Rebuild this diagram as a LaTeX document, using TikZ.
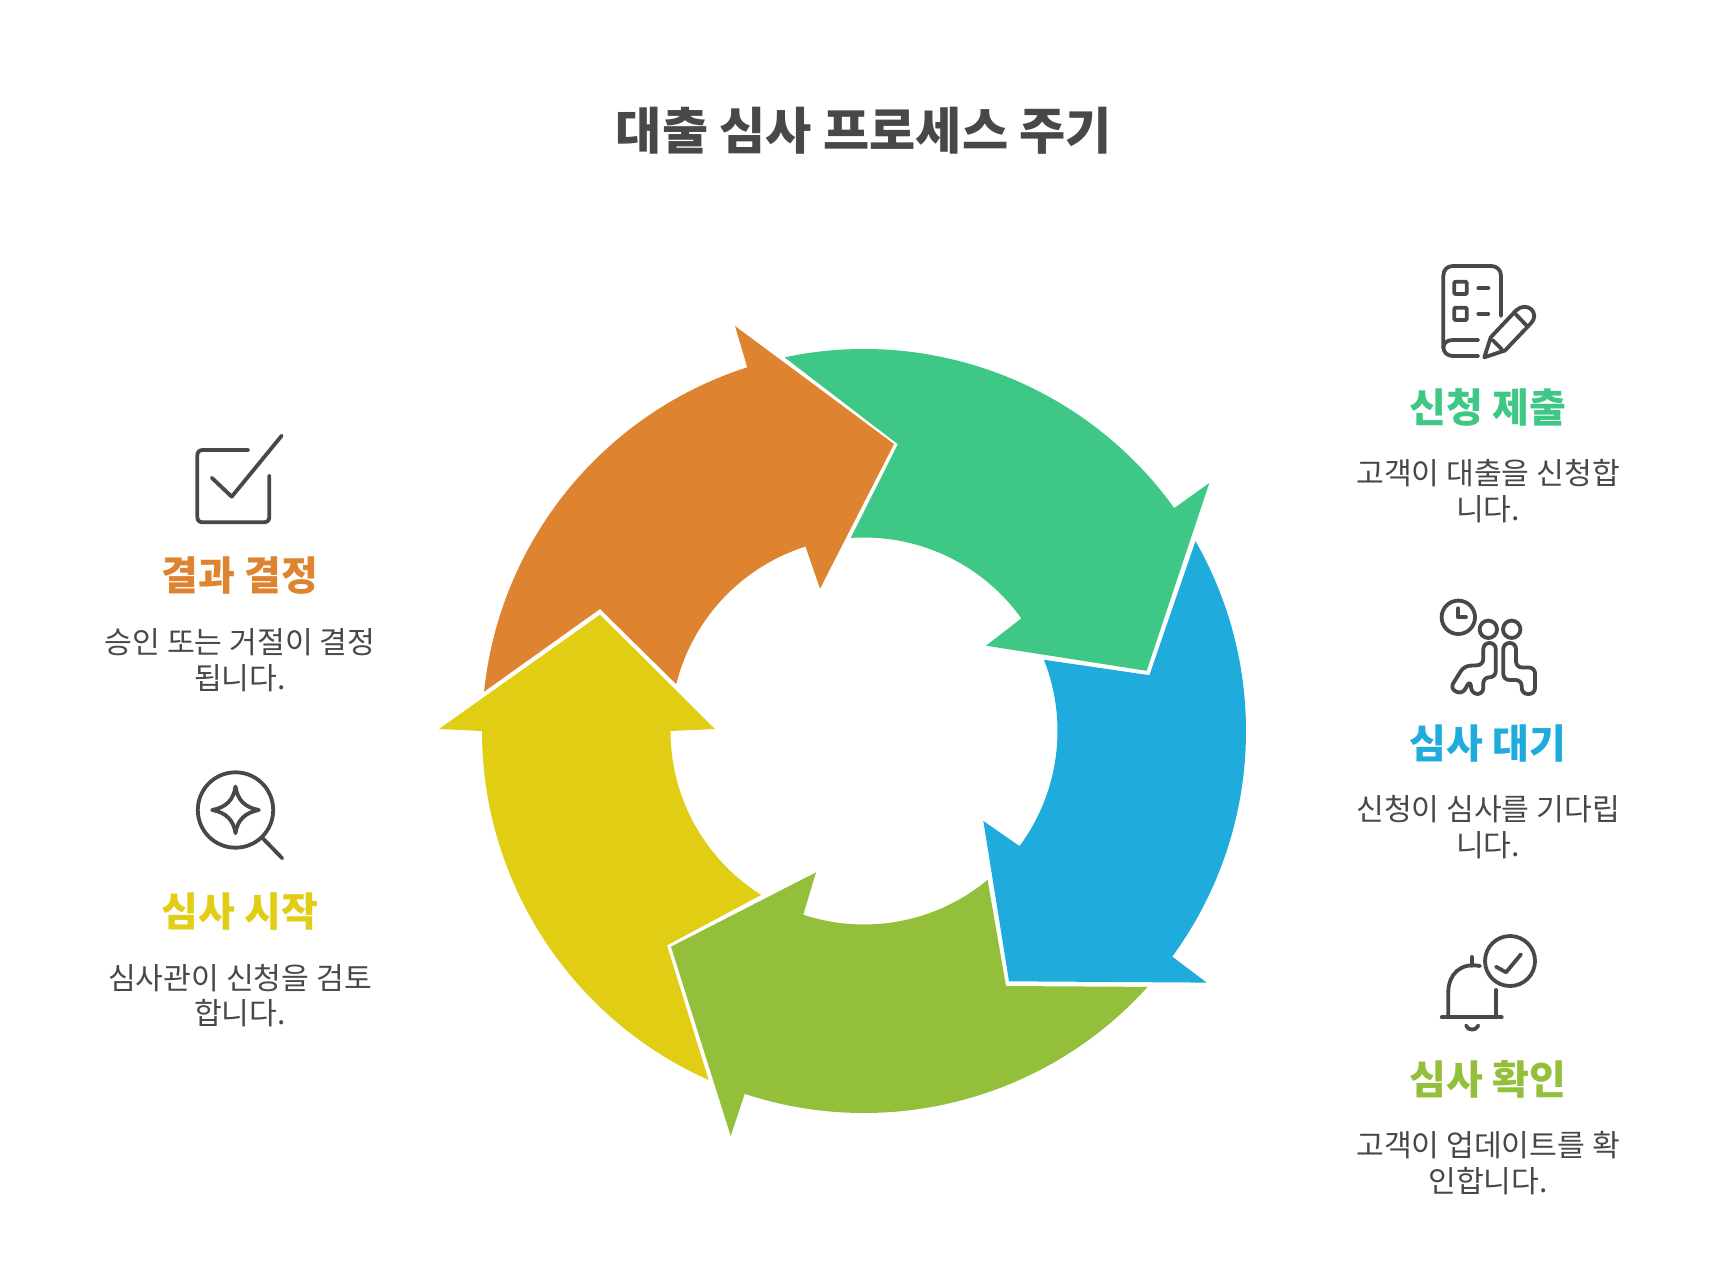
\documentclass[tikz,border=0pt]{standalone}
\usepackage{fontspec}
\setmainfont{Noto Sans CJK KR}
\definecolor{cgreen}{HTML}{3EC785}
\definecolor{cblue}{HTML}{1FABDB}
\definecolor{clime}{HTML}{94BF3A}
\definecolor{cyellow}{HTML}{E0CD14}
\definecolor{corange}{HTML}{DE8431}
\definecolor{ink}{HTML}{484848}
\tikzset{
  titletext/.style={text=ink,inner sep=0pt,font=\bfseries\fontsize{50.2}{58}\selectfont},
  headtext/.style={inner sep=0pt,font=\bfseries\fontsize{40}{46}\selectfont},
  bodytext/.style={text=ink,inner sep=0pt,align=center,font=\fontsize{30.2}{35.5}\selectfont},
  icon/.style={draw=ink,line width=3.8pt,line cap=round,line join=round,fill=none},
  ring/.style={shift={(864,731)}}
}
\begin{document}
\begin{tikzpicture}[x=1pt,y=1pt,yscale=-1]
\useasboundingbox (0,0) rectangle (1728,1273);
% ring arrows
\fill[cgreen] ([ring]258:382) arc[start angle=258,end angle=324.3,radius=382pt]
  -- (1209.3,483) -- (1146.7,670.8) -- (986,645.7) -- ([ring]324.4:193.5)
  arc[start angle=324.4,end angle=266.1,radius=193.5pt] -- (897.8,444.2) -- cycle;
\fill[cblue] ([ring]330.2:382) arc[start angle=330.2,end angle=396.2,radius=382pt]
  -- (1206.7,982.6) -- (1009,981.3) -- (983.3,820.9) -- ([ring]36.5:193.5)
  arc[start angle=36.5,end angle=-21.6,radius=193.5pt] -- (1149.4,675.2) -- cycle;
\fill[clime] ([ring]42.06:382) arc[start angle=42.06,end angle=108.2,radius=382pt]
  -- (730.7,1136) -- (671,946.7) -- (816,872.3) -- ([ring]108.3:193.5)
  arc[start angle=108.3,end angle=50.3,radius=193.5pt] -- (1006,986) -- cycle;
\fill[cyellow] ([ring]114:382) arc[start angle=114,end angle=180,radius=382pt]
  -- (439,729) -- (600,614.7) -- (715,729) -- ([ring]180:193.5)
  arc[start angle=180,end angle=122.1,radius=193.5pt] -- (667,945.3) -- cycle;
\fill[corange] ([ring]185.9:382) arc[start angle=185.9,end angle=252.2,radius=382pt]
  -- (735,326) -- (894,444) -- (820,588.7) -- ([ring]252.4:193.5)
  arc[start angle=252.4,end angle=194,radius=193.5pt] -- (600,609) -- cycle;
% title
\node[titletext] (title) at (864,131) {대출 심사 프로세스 주기};
% labels, right column
\node[headtext,text=cgreen] (h1) at (1488,407.2) {신청 제출};
\node[bodytext] (b1) at (1488,491.2) {고객이 대출을 신청합\\니다.};
\node[headtext,text=cblue] (h2) at (1488,743.2) {심사 대기};
\node[bodytext] (b2) at (1488,827.2) {신청이 심사를 기다립\\니다.};
\node[headtext,text=clime] (h3) at (1488,1079.2) {심사 확인};
\node[bodytext] (b3) at (1488,1163.2) {고객이 업데이트를 확\\인합니다.};
% labels, left column
\node[headtext,text=corange] (h4) at (240,575.2) {결과 결정};
\node[bodytext] (b4) at (240,660) {승인 또는 거절이 결정\\됩니다.};
\node[headtext,text=cyellow] (h5) at (240,911.2) {심사 시작};
\node[bodytext] (b5) at (240,995.6) {심사관이 신청을 검토\\합니다.};
% icon: form and pencil
\draw[icon] (1478.3,356) -- (1453,356) .. controls (1447,356) and (1443.3,352) .. (1443.3,347)
  -- (1443.3,276) .. controls (1443.3,270) and (1447,266) .. (1453,266)
  -- (1491,266) .. controls (1497,266) and (1501,270) .. (1501,276) -- (1501,316);
\draw[icon] (1478.3,340) -- (1453,340) .. controls (1447,340) and (1443.3,343) .. (1443.3,348);
\draw[icon,rounded corners=1pt] (1454.3,281.7) rectangle (1466.7,294);
\draw[icon,rounded corners=1pt] (1454.3,307.7) rectangle (1466.7,320);
\draw[icon] (1478.3,288.3) -- (1488.3,288.3);
\draw[icon] (1478.3,314) -- (1488.3,314);
\draw[icon] (1484.3,357.3) -- (1490.7,337.3) -- (1516,310.5)
  .. controls (1521,305.5) and (1528,306) .. (1531.5,309.5)
  .. controls (1535,313) and (1535.5,319) .. (1530.7,323.5)
  -- (1505,350.5) -- cycle;
\draw[icon] (1514.5,313) -- (1527,326);
\draw[icon] (1492.5,340) -- (1502,349.5);
% icon: waiting people and clock
\draw[icon] (1458.3,617.3) circle[radius=16.7pt];
\draw[icon] (1458.3,608.3) -- (1458.3,617.3) -- (1466,617.3);
\draw[icon] (1488.3,629.3) circle[radius=8.7pt];
\draw[icon] (1511.7,629.3) circle[radius=8.7pt];
\draw[icon,rounded corners=6pt] (1483.3,665) -- (1483.3,643) -- (1495.7,643) -- (1495.7,677.3)
  -- (1483.3,677.3) -- (1483.3,694) -- (1471.7,694) -- (1470.3,680) -- (1462,694.5)
  -- (1450,688.5) -- (1464,666) -- cycle;
\draw[icon,rounded corners=6pt] (1503.3,643) -- (1516,643) -- (1516,667.5) -- (1535,667.5)
  -- (1535,694) -- (1521.7,694) -- (1521.7,680) -- (1503.3,680) -- cycle;
% icon: bell and check
\draw[icon] (1510,961) circle[radius=25pt];
\draw[icon] (1496,966.7) -- (1506,972.3) -- (1521,954.3);
\draw[icon] (1480,966) .. controls (1460,962) and (1448.3,975) .. (1448.3,992) -- (1448.3,1016);
\draw[icon] (1496,990) -- (1496,1016);
\draw[icon] (1441.7,1017.3) -- (1501.7,1017.3);
\draw[icon] (1471.7,957) -- (1471.7,965.7);
\draw[icon] (1466,1025.5) .. controls (1468,1031) and (1476,1031) .. (1478.3,1025.5);
% icon: check box
\draw[icon] (248.3,450) -- (203,450) .. controls (199,450) and (197.3,452) .. (197.3,456)
  -- (197.3,516.5) .. controls (197.3,520.5) and (199,522.3) .. (203,522.3)
  -- (263.5,522.3) .. controls (267.5,522.3) and (269.3,520.5) .. (269.3,516.5) -- (269.3,475.7);
\draw[icon] (211.7,477.7) -- (231.7,496.7) -- (281.7,435.7);
% icon: magnifier and sparkle
\draw[icon] (235.5,810) circle[radius=37.7pt];
\draw[icon] (262,837.5) -- (282.3,858.3);
\draw[icon] (235.5,786.5) .. controls (237.5,800.5) and (245.5,807.5) .. (258.8,810)
  .. controls (245.5,812.5) and (237.5,819.5) .. (235.5,833.2)
  .. controls (233.5,819.5) and (225.5,812.5) .. (212.2,810)
  .. controls (225.5,807.5) and (233.5,800.5) .. (235.5,786.5) -- cycle;
\end{tikzpicture}
\end{document}
